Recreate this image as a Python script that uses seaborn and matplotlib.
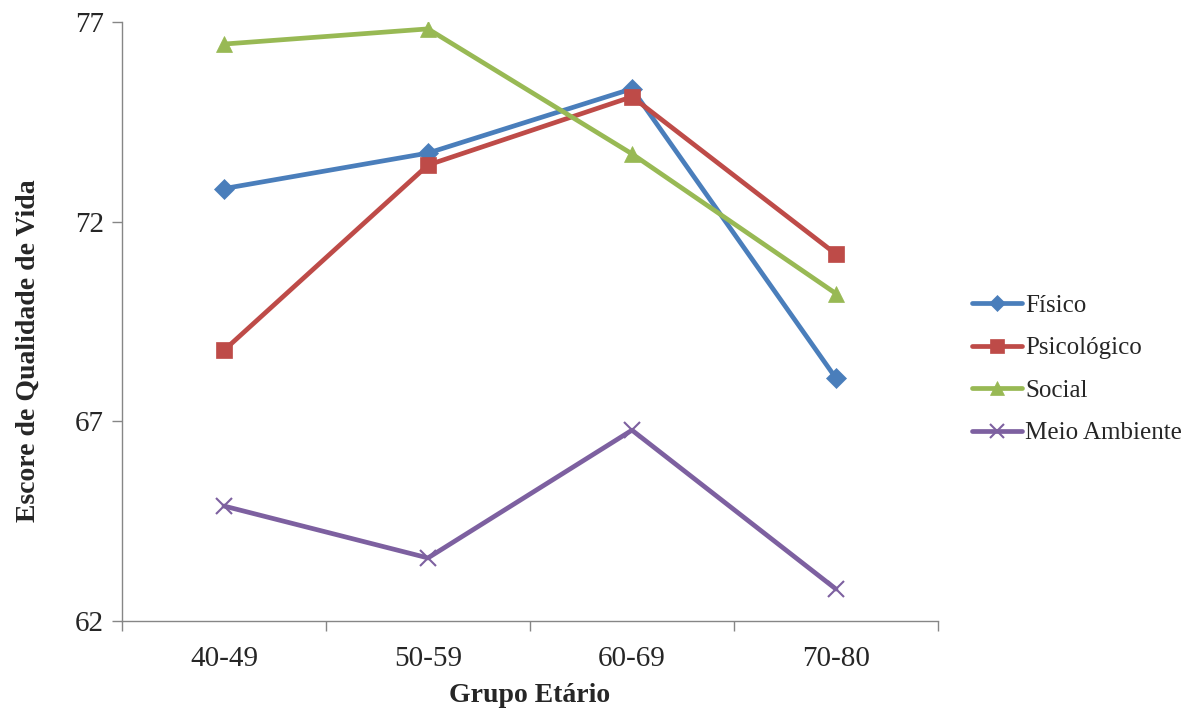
import matplotlib
matplotlib.use("Agg")
import matplotlib.pyplot as plt
import seaborn as sns
import pandas as pd

categories = ["40-49", "50-59", "60-69", "70-80"]
fisico = [72.83, 73.72, 75.33, 68.08]
psicologico = [68.78, 73.42, 75.13, 71.19]
social = [76.45, 76.83, 73.70, 70.20]
meio_ambiente = [64.88, 63.58, 66.78, 62.80]
series_names = ["Físico", "Psicológico", "Social", "Meio Ambiente"]
y_ticks = [62, 67, 72, 77]

colors = ["#4A7EBB", "#BE4B48", "#98B954", "#7D60A0"]
markers = ["D", "s", "^", "x"]
msizes = [10, 12, 12, 12]

rows = []
for name, vals in zip(series_names, [fisico, psicologico, social, meio_ambiente]):
    for c, v in zip(categories, vals):
        rows.append({"Grupo": c, "Escore": v, "Serie": name})
df = pd.DataFrame(rows)

sns.set_style("white")
plt.rcParams["font.family"] = ["Liberation Serif", "DejaVu Serif"]

fig = plt.figure(figsize=(12.03, 7.13), dpi=100)
ax = fig.add_axes([0.1014, 0.129, 0.6783, 0.840])

for name, col, mk, ms in zip(series_names, colors, markers, msizes):
    sub = df[df["Serie"] == name]
    sns.lineplot(data=sub, x="Grupo", y="Escore", ax=ax, color=col, marker=mk,
                 markersize=ms, linewidth=3.4, label=name,
                 markeredgecolor=col, markeredgewidth=1.5 if mk == "x" else 0.5,
                 sort=False)

ax.set_xlim(-0.5, 3.5)
ax.set_ylim(62, 77)
ax.set_yticks(y_ticks)
ax.set_xticks([-0.5, 0.5, 1.5, 2.5, 3.5])
ax.set_xticklabels([])
ax.set_xticks(range(len(categories)), minor=True)
ax.set_xticklabels(categories, minor=True)
ax.tick_params(axis="x", which="major", direction="out", length=7, color="#868686", width=1, bottom=True)
ax.tick_params(axis="x", which="minor", length=0, labelsize=21, pad=18)
ax.tick_params(axis="y", direction="out", length=7, color="#868686", width=1, labelsize=21, left=True, pad=6)

for s in ["top", "right"]:
    ax.spines[s].set_visible(False)
for s in ["left", "bottom"]:
    ax.spines[s].set_color("#868686")
    ax.spines[s].set_linewidth(1)

ax.set_xlabel("Grupo Etário", fontsize=20, fontweight="bold", labelpad=8)
ax.set_ylabel("Escore de Qualidade de Vida", fontsize=20, fontweight="bold")
ax.yaxis.set_label_coords(-0.100, 0.451)

ax.legend(loc="center left", bbox_to_anchor=(1.03, 0.42), frameon=False, fontsize=18,
          handlelength=2.0, handletextpad=0.1, labelspacing=0.8, borderaxespad=0,
          markerscale=0.85)

fig.savefig("out.png", dpi=100)
